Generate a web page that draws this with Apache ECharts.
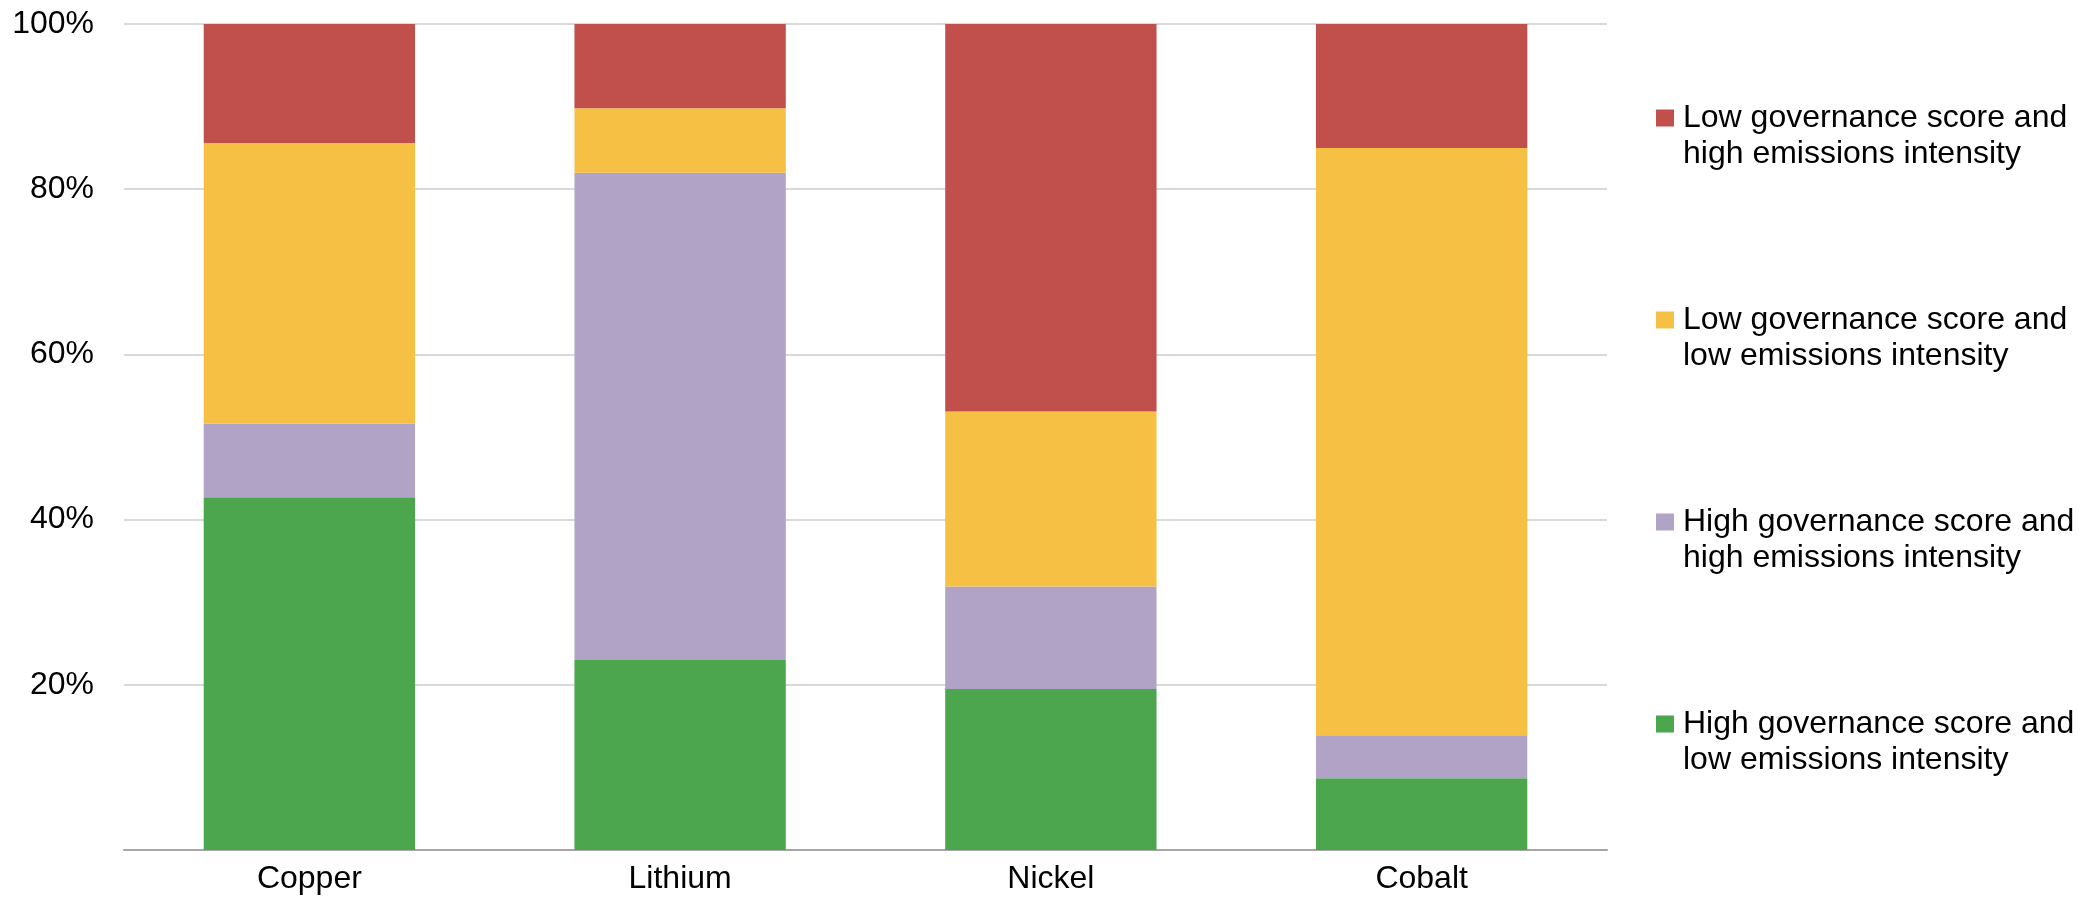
<!DOCTYPE html>
<html>
<head>
<meta charset="utf-8">
<script src="https://cdn.jsdelivr.net/npm/echarts@6/dist/echarts.min.js"></script>
<style>
  html, body { margin: 0; padding: 0; background: #fff; }
  #main { width: 2088px; height: 898px; }
</style>
</head>
<body>
<div id="main"></div>
<script>
// categories
const minerals = ['Copper', 'Lithium', 'Nickel', 'Cobalt']
// share of production (%), bottom to top of each stack
const highGovLowEm = [42.7, 23.0, 19.5, 8.7]
const highGovHighEm = [8.9, 59.0, 12.4, 5.2]
const lowGovLowEm = [34.0, 7.8, 21.2, 71.1]
const lowGovHighEm = [14.4, 10.2, 46.9, 15.0]
const yTicks = [0, 20, 40, 60, 80, 100]

const names = {
  lowHigh: 'Low governance score and\nhigh emissions intensity',
  lowLow: 'Low governance score and\nlow emissions intensity',
  highHigh: 'High governance score and\nhigh emissions intensity',
  highLow: 'High governance score and\nlow emissions intensity'
}

const font = 'Liberation Sans, Arial, Helvetica, sans-serif'

const myChart = echarts.init(document.getElementById('main'))

function bar (name, data, color) {
  return {
    name: name,
    type: 'bar',
    stack: 'total',
    data: data,
    barWidth: '57%',
    itemStyle: { color: color },
    emphasis: { disabled: true }
  }
}

const option = {
  animation: false,
  grid: {
    left: 124,
    right: 481,
    top: 24,
    bottom: 48
  },
  legend: {
    orient: 'vertical',
    left: 1651,
    top: 59,
    itemWidth: 18,
    itemHeight: 17,
    itemGap: 94,
    icon: 'rect',
    data: [names.lowHigh, names.lowLow, names.highHigh, names.highLow],
    // empty first line keeps the icon level with the first text line
    formatter: name => '\n' + name,
    textStyle: {
      fontFamily: font,
      fontSize: 32,
      color: '#000',
      lineHeight: 36,
      padding: [0, 0, 0, 4]
    }
  },
  xAxis: {
    type: 'category',
    data: minerals,
    axisTick: { show: false },
    axisLine: {
      lineStyle: { color: '#a6a6a6', width: 2 }
    },
    axisLabel: {
      margin: 13,
      fontFamily: font,
      fontSize: 32,
      color: '#000'
    }
  },
  yAxis: {
    type: 'value',
    min: yTicks[0],
    max: yTicks[yTicks.length - 1],
    interval: 20,
    axisLine: { show: false },
    axisTick: { show: false },
    axisLabel: {
      margin: 30,
      fontFamily: font,
      fontSize: 32,
      color: '#000',
      formatter: v => (v === 0 ? '' : v + '%')
    },
    splitLine: {
      lineStyle: { color: '#d9d9d9', width: 2 }
    }
  },
  series: [
    bar(names.highLow, highGovLowEm, '#4ca64e'),
    bar(names.highHigh, highGovHighEm, '#b1a3c5'),
    bar(names.lowLow, lowGovLowEm, '#f5c043'),
    bar(names.lowHigh, lowGovHighEm, '#c1504d')
  ]
}

myChart.setOption(option)
</script>
</body>
</html>
